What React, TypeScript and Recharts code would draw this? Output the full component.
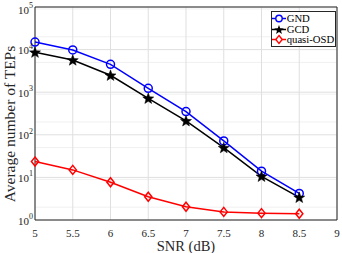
import React from "react";
import {
  LineChart,
  Line,
  XAxis,
  YAxis,
  CartesianGrid,
  ReferenceArea,
} from "recharts";

const snr = [5, 5.5, 6, 6.5, 7, 7.5, 8, 8.5];
const gnd = [15000, 9800, 4500, 1230, 350, 72, 14, 4.2];
const gcd = [8700, 5700, 2500, 720, 213, 50, 10.6, 3.4];
const quasiOsd = [23.5, 15, 7.7, 3.5, 2.05, 1.55, 1.45, 1.4];
const xTicks = [5, 5.5, 6, 6.5, 7, 7.5, 8, 8.5, 9];
const yTicks = [1, 10, 100, 1000, 10000, 100000];
const yExponents = [0, 1, 2, 3, 4, 5];

const data = snr.map((s, i) => ({
  snr: s,
  gnd: gnd[i],
  gcd: gcd[i],
  qosd: quasiOsd[i],
}));

const minorY: number[] = [];
for (let d = 0; d < 5; d++) {
  for (let m = 2; m <= 9; m++) minorY.push(m * Math.pow(10, d));
}

const FONT = "'Liberation Serif', 'DejaVu Serif', serif";

const YTick = (props: any) => {
  const { x, y, payload } = props;
  const idx = yTicks.indexOf(payload.value);
  const e = yExponents[idx >= 0 ? idx : 0];
  return (
    <text x={x - 2} y={y + 4.5} textAnchor="end" fontFamily={FONT} fontSize={11} fill="#262626">
      10
      <tspan dy={-5.5} fontSize={8}>
        {e}
      </tspan>
    </text>
  );
};

const XTick = (props: any) => {
  const { x, y, payload } = props;
  return (
    <text x={x} y={y + 17} textAnchor="middle" fontFamily={FONT} fontSize={11} fill="#262626">
      {payload.value}
    </text>
  );
};

const XLabel = (props: any) => {
  const vb = props.viewBox || {};
  const cx = (vb.x || 0) + (vb.width || 0) / 2;
  return (
    <text x={cx} y={251} textAnchor="middle" fontFamily={FONT} fontSize={14.5} fill="#262626">
      SNR (dB)
    </text>
  );
};

const YLabel = () => (
  <text
    x={15}
    y={124}
    transform="rotate(-90 15 124)"
    textAnchor="middle"
    fontFamily={FONT}
    fontSize={15.5}
    fill="#262626"
  >
    Average number of TEPs
  </text>
);

const Circle = (props: any) => {
  const { cx, cy } = props;
  if (cx == null || cy == null) return null;
  return <circle cx={cx} cy={cy} r={4} fill="none" stroke="#0000ff" strokeWidth={1.5} />;
};

const starPath = (cx: number, cy: number, R: number) => {
  const r = R * 0.42;
  let d = "";
  for (let i = 0; i < 10; i++) {
    const ang = -Math.PI / 2 + (i * Math.PI) / 5;
    const rad = i % 2 === 0 ? R : r;
    d += (i === 0 ? "M" : "L") + (cx + rad * Math.cos(ang)).toFixed(2) + "," + (cy + rad * Math.sin(ang)).toFixed(2);
  }
  return d + "Z";
};

const Star = (props: any) => {
  const { cx, cy } = props;
  if (cx == null || cy == null) return null;
  return <path d={starPath(cx, cy + 0.5, 5.8)} fill="#000" stroke="#000" strokeWidth={0.5} />;
};

const Diamond = (props: any) => {
  const { cx, cy } = props;
  if (cx == null || cy == null) return null;
  const s = 4.5;
  return (
    <path
      d={`M${cx},${cy - s}L${cx + s * 0.8},${cy}L${cx},${cy + s}L${cx - s * 0.8},${cy}Z`}
      fill="none"
      stroke="#ff0000"
      strokeWidth={1.5}
    />
  );
};

const legendItems = [
  { label: "GND", color: "#0000ff", kind: "circle" },
  { label: "GCD", color: "#000000", kind: "star" },
  { label: "quasi-OSD", color: "#ff0000", kind: "diamond" },
];

const LegendBox = () => (
  <div
    style={{
      position: "absolute",
      left: 271,
      top: 11,
      width: 65,
      height: 36,
      boxSizing: "border-box",
      border: "1px solid #262626",
      background: "#fff",
      paddingTop: 1,
      fontFamily: FONT,
      fontSize: 10.7,
      lineHeight: "10.7px",
      color: "#000",
    }}
  >
    {legendItems.map((it) => (
      <div key={it.label} style={{ display: "flex", alignItems: "center", height: 10.7 }}>
        <svg width={14} height={11} style={{ marginRight: 0.7, flex: "none" }}>
          <line x1={0} y1={5.5} x2={14} y2={5.5} stroke={it.color} strokeWidth={1.5} />
          {it.kind === "circle" && <circle cx={7} cy={5.5} r={3.2} fill="#fff" stroke={it.color} strokeWidth={1.4} />}
          {it.kind === "star" && <path d={starPath(7, 6, 5)} fill="#000" />}
          {it.kind === "diamond" && (
            <path d="M7,1.5L10.2,5.5L7,9.5L3.8,5.5Z" fill="#fff" stroke={it.color} strokeWidth={1.4} />
          )}
        </svg>
        <span style={{ whiteSpace: "nowrap" }}>{it.label}</span>
      </div>
    ))}
  </div>
);

export default function App() {
  return (
    <div style={{ position: "absolute", left: 0, top: 0, width: 342, height: 253, background: "#fff" }}>
      <LineChart width={342} height={253} data={data} margin={{ top: 7, right: 5, bottom: 0, left: 0 }}>
        <CartesianGrid horizontalValues={minorY} vertical={false} stroke="#f0f0f0" strokeWidth={1} />
        <CartesianGrid horizontalValues={yTicks} verticalValues={xTicks} stroke="#dfdfdf" strokeWidth={1} />
        <XAxis
          dataKey="snr"
          type="number"
          domain={[5, 9]}
          ticks={xTicks}
          height={33}
          tick={<XTick />}
          tickSize={0}
          tickMargin={0}
          tickLine={false}
          axisLine={false}
          label={<XLabel />}
        />
        <YAxis
          scale="log"
          domain={[1, 100000]}
          ticks={yTicks}
          type="number"
          allowDataOverflow
          width={35}
          tick={<YTick />}
          tickSize={0}
          tickMargin={0}
          tickLine={false}
          axisLine={false}
          label={<YLabel />}
        />
        <ReferenceArea x1={5} x2={9} y1={1} y2={100000} fill="none" stroke="#262626" strokeWidth={1} ifOverflow="extendDomain" />
        <Line dataKey="gnd" stroke="#0000ff" strokeWidth={1.5} dot={<Circle />} isAnimationActive={false} />
        <Line dataKey="gcd" stroke="#000000" strokeWidth={1.5} dot={<Star />} isAnimationActive={false} />
        <Line dataKey="qosd" stroke="#ff0000" strokeWidth={1.5} dot={<Diamond />} isAnimationActive={false} />
      </LineChart>
      <LegendBox />
    </div>
  );
}
